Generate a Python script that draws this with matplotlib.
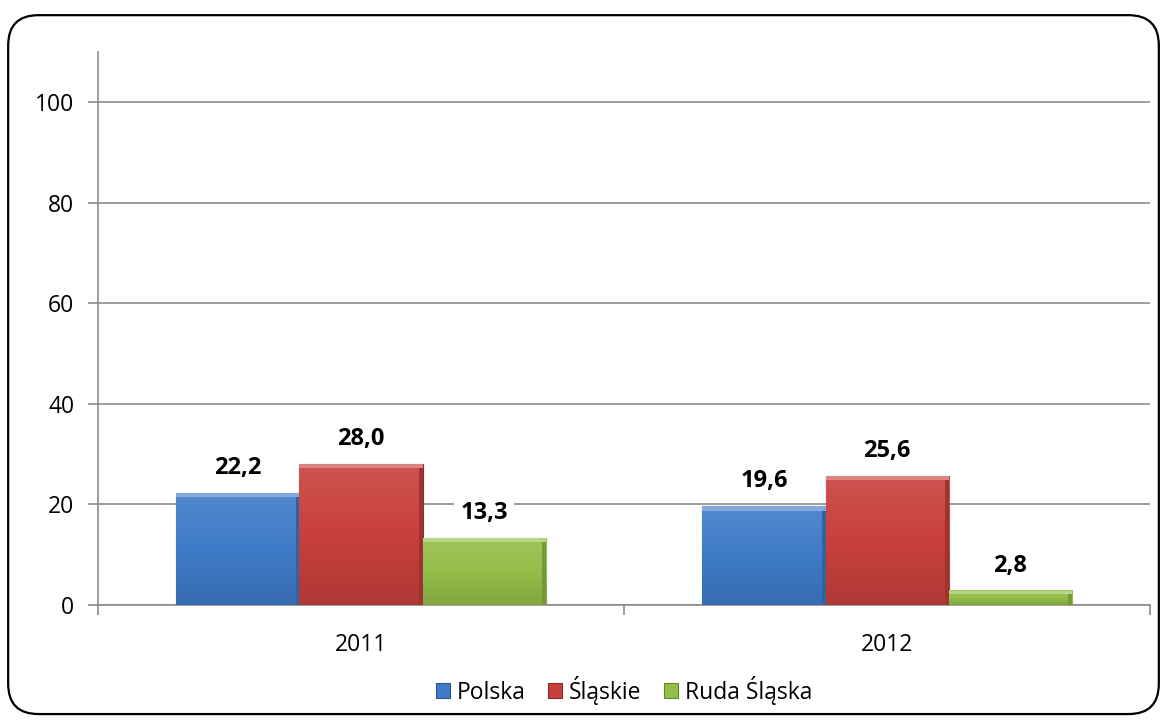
import matplotlib
matplotlib.use("Agg")
import matplotlib.pyplot as plt
import numpy as np
from matplotlib.patches import FancyBboxPatch
from matplotlib.colors import LinearSegmentedColormap, to_rgb

categories = ["2011", "2012"]
series_names = ["Polska", "Śląskie", "Ruda Śląska"]
polska = [22.2, 19.6]
slaskie = [28.0, 25.6]
ruda = [13.3, 2.8]
labels_polska = ["22,2", "19,6"]
labels_slaskie = ["28,0", "25,6"]
labels_ruda = ["13,3", "2,8"]
yticks = [0, 20, 40, 60, 80, 100]

colors = ["#3F7BC8", "#C8403D", "#94BE48"]

plt.rcParams['font.family'] = ['Open Sans', 'DejaVu Sans']

fig = plt.figure(figsize=(11.67, 7.22), dpi=100)
border = FancyBboxPatch((0.007, 0.011), 0.986, 0.968, boxstyle="round,pad=0,rounding_size=0.026",
                        transform=fig.transFigure, fill=False, edgecolor="black", linewidth=1.6,
                        mutation_aspect=1167/722)
fig.patches.append(border)

ax = fig.add_axes([0.084, 0.162, 0.9015, 0.766])
ax.set_xlim(-0.5, 1.5)
ax.set_ylim(0, 110)

x = np.arange(len(categories))
w = 0.234
data = [polska, slaskie, ruda]
labs = [labels_polska, labels_slaskie, labels_ruda]

def shade(c, f):
    r, g, b = to_rgb(c)
    if f >= 0:
        return (r + (1 - r) * f, g + (1 - g) * f, b + (1 - b) * f)
    return (r * (1 + f), g * (1 + f), b * (1 + f))

for i, (vals, col, lab) in enumerate(zip(data, colors, labs)):
    bars = ax.bar(x + (i - 1) * w, vals, width=w, color=col, edgecolor=shade(col, -0.3),
                  linewidth=0.8, zorder=3, label=series_names[i])
    cmap = LinearSegmentedColormap.from_list("g", [shade(col, 0.10), col, shade(col, -0.12)])
    for b in bars:
        bx, by, bw, bh = b.get_x(), b.get_y(), b.get_width(), b.get_height()
        grad = np.linspace(0, 1, 50).reshape(50, 1)
        ax.imshow(grad, extent=[bx, bx + bw, by, by + bh], origin="upper", cmap=cmap,
                  aspect="auto", zorder=3.1, clip_path=b, clip_on=True)
        hb = min(0.8, bh * 0.25)
        ax.fill_between([bx, bx + bw], by + bh - hb, by + bh,
                        color=shade(col, 0.35), zorder=3.2, linewidth=0)
        ax.fill_between([bx + bw * 0.97, bx + bw], by, by + bh - hb,
                        color=shade(col, -0.2), zorder=3.2, linewidth=0)
    for b, t in zip(bars, lab):
        ax.annotate(t, (b.get_x() + b.get_width() / 2, b.get_height()), xytext=(0, 18),
                    textcoords="offset points", ha="center", va="center", fontsize=17,
                    fontweight="bold", zorder=5,
                    bbox=dict(boxstyle="square,pad=0.25", fc="white", ec="none"))

ax.set_yticks(yticks)
ax.set_yticklabels([str(v) for v in yticks], fontsize=16.5)
ax.yaxis.grid(True, color="#8c8c8c", linewidth=1.2, zorder=0)
ax.set_axisbelow(True)
ax.set_xticks([-0.5, 0.5, 1.5])
ax.set_xticklabels([])
ax.set_xticks(x, minor=True)
ax.set_xticklabels(categories, minor=True, fontsize=16.5)
ax.tick_params(axis="x", which="minor", length=0, pad=20)
ax.tick_params(axis="x", which="major", length=7, color="#8c8c8c", width=1.2)
ax.tick_params(axis="y", length=7, color="#8c8c8c", width=1.2, pad=10)
for s in ["top", "right"]:
    ax.spines[s].set_visible(False)
for s in ["left", "bottom"]:
    ax.spines[s].set_color("#8c8c8c")
    ax.spines[s].set_linewidth(1.2)
ax.set_facecolor("none")

leg = ax.legend(loc="center", bbox_to_anchor=(0.5, -0.154), ncol=3, frameon=False,
                fontsize=16.5, handlelength=0.6, handleheight=0.6, handletextpad=0.3,
                columnspacing=1.0)

fig.savefig("out.png", dpi=100)
